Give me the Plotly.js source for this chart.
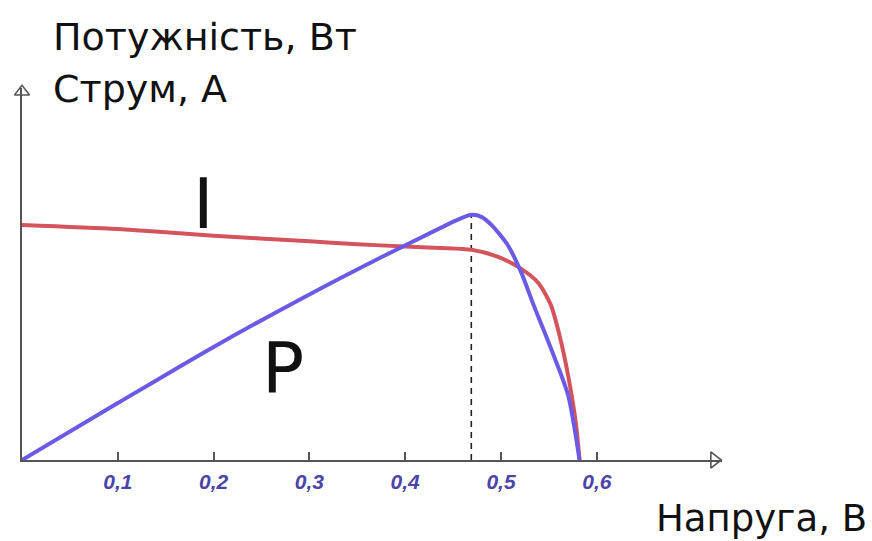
<!DOCTYPE html>
<html>
<head>
<meta charset="utf-8">
<script src="https://cdn.plot.ly/plotly-3.0.1.min.js"></script>
<style>
  html, body { margin: 0; padding: 0; background: #ffffff; }
  #chart { width: 872px; height: 541px; }
</style>
</head>
<body>
<div id="chart"></div>
<script>
// Solar cell characteristics: current I and power P against voltage (relative units)
const currentV = [0, 0.1, 0.2, 0.3, 0.35, 0.4, 0.437, 0.469, 0.497, 0.518, 0.539, 0.552, 0.561, 0.570, 0.578, 0.582];
const current  = [0.632, 0.621, 0.603, 0.588, 0.580, 0.574, 0.570, 0.565, 0.546, 0.519, 0.476, 0.417, 0.336, 0.228, 0.102, 0.0];

const powerV = [0, 0.1, 0.2, 0.3, 0.375, 0.437, 0.455, 0.469, 0.48, 0.49, 0.507, 0.521, 0.534, 0.552, 0.570, 0.582];
const power  = [0, 0.153, 0.304, 0.445, 0.545, 0.624, 0.646, 0.659, 0.653, 0.632, 0.578, 0.505, 0.417, 0.301, 0.175, 0.0];

// Maximum power point
const mppV = 0.469;
const mppP = 0.659;

const tickVals = [0.1, 0.2, 0.3, 0.4, 0.5, 0.6];
const tickText = ['0,1', '0,2', '0,3', '0,4', '0,5', '0,6'];

const xMax = 0.7307;
const yMax = 1.0;
const axisColor = '#555555';
const textFont = 'DejaVu Sans, Liberation Serif, serif';
const sans = 'Liberation Sans, Arial, DejaVu Sans, sans-serif';

const traces = [
  {
    x: [mppV, mppV], y: [0, mppP],
    mode: 'lines', line: { color: '#222222', width: 1.6, dash: '6px,5px' },
    hoverinfo: 'skip', showlegend: false
  },
  {
    x: currentV, y: current, name: 'I',
    mode: 'lines', line: { color: '#d4545e', width: 4, shape: 'spline', smoothing: 0.7 },
    showlegend: false
  },
  {
    x: powerV, y: power, name: 'P',
    mode: 'lines', line: { color: '#6a5ae6', width: 4, shape: 'spline', smoothing: 0.7 },
    showlegend: false
  },
  // axis arrowheads
  {
    x: [xMax - 0.008], y: [0],
    mode: 'markers', cliponaxis: false, hoverinfo: 'skip', showlegend: false,
    marker: { symbol: 'triangle-right-open', size: 14, color: axisColor, line: { width: 1.6, color: axisColor } }
  },
  {
    x: [0], y: [yMax - 0.01],
    mode: 'markers', cliponaxis: false, hoverinfo: 'skip', showlegend: false,
    marker: { symbol: 'triangle-up-open', size: 13, color: axisColor, line: { width: 1.5, color: axisColor } }
  }
];

const layout = {
  width: 872, height: 541,
  margin: { l: 22, r: 150, t: 88, b: 81 },
  paper_bgcolor: '#ffffff', plot_bgcolor: '#ffffff',
  showlegend: false,
  xaxis: {
    range: [0, xMax], showgrid: false, zeroline: false,
    showline: true, linecolor: axisColor, linewidth: 2,
    ticks: 'inside', ticklen: 8, tickwidth: 2, tickcolor: axisColor,
    tickvals: tickVals, ticktext: tickText, ticklabelstandoff: 2,
    tickfont: { family: sans, size: 21, color: '#4a45a6', weight: 'bold', style: 'italic' }
  },
  yaxis: {
    range: [0, yMax], showgrid: false, zeroline: false,
    showline: true, linecolor: axisColor, linewidth: 2,
    showticklabels: false, ticks: ''
  },
  annotations: [
    { text: 'Потужність, Вт', xref: 'paper', yref: 'paper', x: 0, xshift: 29, y: 1.0, yshift: 51,
      xanchor: 'left', yanchor: 'middle', showarrow: false, font: { family: textFont, size: 38, color: '#111111' } },
    { text: 'Струм, А', xref: 'paper', yref: 'paper', x: 0, xshift: 29, y: 1.0, yshift: -1,
      xanchor: 'left', yanchor: 'middle', showarrow: false, font: { family: textFont, size: 38, color: '#111111' } },
    { text: 'Напруга, В', xref: 'paper', yref: 'paper', x: 1.0, y: 0, xshift: 147, yshift: -58,
      xanchor: 'right', yanchor: 'middle', showarrow: false, font: { family: textFont, size: 37, color: '#111111' } },
    { text: 'I', xref: 'x', yref: 'y', x: 0.189, y: 0.699, yanchor: 'middle', yshift: -4,
      showarrow: false, font: { family: textFont, size: 70, color: '#111111' } },
    { text: 'P', xref: 'x', yref: 'y', x: 0.272, y: 0.258, yanchor: 'middle', yshift: -4,
      showarrow: false, font: { family: textFont, size: 70, color: '#111111' } }
  ]
};

Plotly.newPlot('chart', traces, layout, { staticPlot: true, displayModeBar: false });
</script>
</body>
</html>
